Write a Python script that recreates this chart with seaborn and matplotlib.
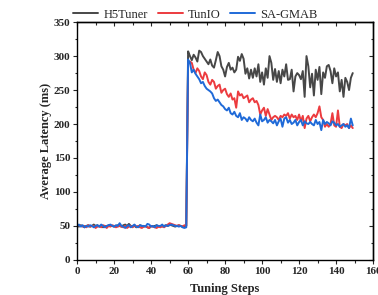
import matplotlib
matplotlib.use("Agg")
import matplotlib.pyplot as plt
import pandas as pd
import seaborn as sns
from matplotlib.ticker import MultipleLocator

sns.set_style("ticks")
plt.rcParams["font.family"] = ["Liberation Serif", "DejaVu Serif"]

# Average latency (ms) per tuning step, steps 0..149
h5tuner = [
    50, 49, 51, 50, 48, 50, 51, 49, 50, 52, 50, 51, 49, 50, 48, 50, 49, 51, 50, 50,
    49, 50, 51, 50, 49, 51, 52, 50, 53, 50, 49, 50, 48, 49, 51, 50, 49, 50, 48, 47,
    50, 49, 50, 51, 49, 50, 49, 50, 51, 50, 52, 51, 50, 49, 50, 51, 50, 49, 50, 50,
    307, 300, 294, 302, 298, 292, 308, 306, 300, 296, 292, 288, 295, 286, 283, 294,
    306, 300, 285, 280, 270, 284, 290, 280, 283, 276, 280, 299, 293, 303, 296, 274,
    282, 267, 280, 268, 282, 270, 288, 262, 276, 258, 282, 268, 300, 290, 265, 281,
    262, 278, 260, 280, 270, 288, 265, 266, 280, 248, 270, 275, 272, 266, 278, 240,
    300, 285, 254, 274, 242, 280, 265, 284, 244, 276, 268, 285, 287, 278, 260, 282,
    270, 276, 248, 265, 240, 268, 262, 250, 268, 275,
]
tunio = [
    52, 51, 50, 49, 50, 48, 51, 49, 50, 50, 47, 49, 50, 48, 51, 50, 47, 50, 49, 51,
    50, 48, 49, 50, 49, 48, 50, 47, 49, 50, 48, 51, 49, 50, 48, 47, 49, 50, 48, 47,
    50, 49, 48, 47, 49, 48, 50, 48, 50, 52, 54, 53, 52, 51, 50, 51, 50, 49, 51, 50,
    288, 292, 290, 280, 275, 282, 278, 270, 266, 276, 272, 262, 258, 265, 262, 252,
    256, 258, 246, 250, 252, 244, 240, 245, 236, 238, 224, 248, 242, 244, 238, 240,
    242, 232, 236, 238, 232, 234, 228, 214, 220, 224, 212, 222, 214, 206, 210, 212,
    210, 206, 212, 210, 214, 212, 216, 208, 214, 210, 212, 206, 214, 204, 212, 194,
    208, 212, 204, 210, 214, 210, 216, 226, 210, 206, 196, 200, 196, 200, 216, 198,
    196, 220, 196, 194, 200, 198, 200, 194, 198, 194,
]
sa_gmab = [
    50, 52, 49, 51, 48, 50, 49, 51, 50, 48, 50, 51, 49, 52, 50, 48, 50, 51, 52, 50,
    49, 51, 50, 54, 50, 49, 47, 50, 51, 48, 50, 52, 49, 48, 51, 50, 50, 49, 53, 52,
    49, 50, 48, 51, 50, 50, 52, 49, 51, 50, 51, 52, 51, 50, 50, 49, 50, 48, 47, 48,
    295, 290, 276, 280, 274, 270, 266, 260, 262, 256, 252, 250, 248, 245, 238, 234,
    236, 232, 228, 226, 222, 220, 224, 216, 214, 218, 212, 210, 216, 206, 210, 208,
    204, 210, 206, 204, 208, 202, 198, 214, 204, 206, 210, 202, 206, 204, 201, 206,
    198, 204, 208, 196, 208, 210, 202, 206, 200, 202, 206, 198, 203, 206, 198, 204,
    201, 200, 203, 200, 198, 206, 200, 203, 191, 206, 200, 203, 201, 198, 204, 202,
    198, 200, 196, 198, 200, 196, 198, 194, 208, 198,
]
steps = list(range(len(h5tuner)))

methods = ["H5Tuner", "TunIO", "SA-GMAB"]
colors = ["#474747", "#ec3b3f", "#1f6ad8"]

df = pd.concat(
    [
        pd.DataFrame({"step": steps, "latency": vals, "method": name})
        for name, vals in zip(methods, [h5tuner, tunio, sa_gmab])
    ],
    ignore_index=True,
)

fig = plt.figure(figsize=(3.78, 2.95), dpi=100)
ax = fig.add_axes([0.204, 0.119, 0.783, 0.806])
sns.lineplot(
    data=df, x="step", y="latency", hue="method", hue_order=methods,
    palette=colors, linewidth=1.4, ax=ax,
)

ax.set_xlim(0, 160)
ax.set_ylim(0, 350)
for axis, major, minor in ((ax.xaxis, 20, 10), (ax.yaxis, 50, 25)):
    axis.set_major_locator(MultipleLocator(major))
    axis.set_minor_locator(MultipleLocator(minor))
ax.tick_params(which="both", direction="out", labelsize=8, width=0.8, pad=2)
ax.tick_params(which="major", length=3)
ax.tick_params(which="minor", length=1.8)
for lab in ax.get_xticklabels() + ax.get_yticklabels():
    lab.set_fontweight("bold")

# mirrored ticks pointing inward on top and right
top = ax.secondary_xaxis("top")
right = ax.secondary_yaxis("right")
for sec, axis, major, minor in ((top, top.xaxis, 20, 10), (right, right.yaxis, 50, 25)):
    axis.set_major_locator(MultipleLocator(major))
    axis.set_minor_locator(MultipleLocator(minor))
    sec.tick_params(which="both", direction="in", width=0.8,
                    labeltop=False, labelright=False)
    sec.tick_params(which="major", length=3)
    sec.tick_params(which="minor", length=1.8)
    for sp in sec.spines.values():
        sp.set_linewidth(1.0)

for sp in ax.spines.values():
    sp.set_linewidth(1.0)
    sp.set_color("black")

ax.set_xlabel("Tuning Steps", fontsize=9, fontweight="bold", labelpad=5)
ax.set_ylabel("Average Latency (ms)", fontsize=9, fontweight="bold", labelpad=1)

ax.legend(
    loc="lower center", bbox_to_anchor=(0.40, 0.985), ncol=3, frameon=False,
    fontsize=9, handlelength=2.0, columnspacing=0.8, handletextpad=0.4,
    borderaxespad=0,
)

fig.savefig("out.png", dpi=100)
